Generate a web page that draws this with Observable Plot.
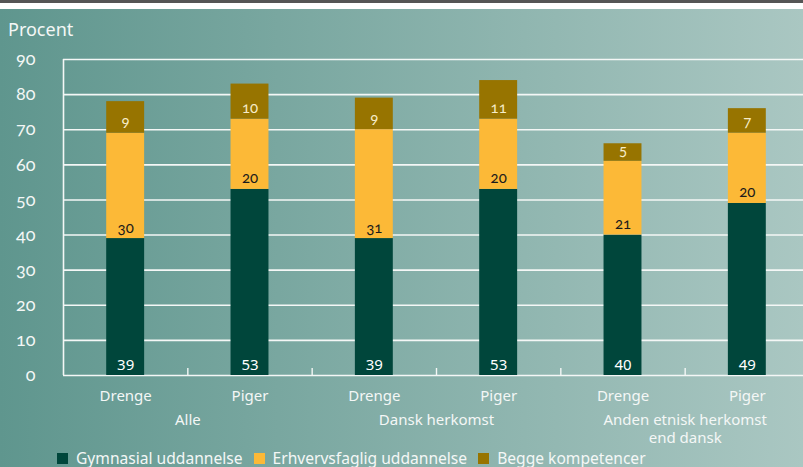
<!DOCTYPE html>
<html>
<head>
<meta charset="utf-8">
<script src="https://cdn.jsdelivr.net/npm/d3@7"></script>
<script src="https://cdn.jsdelivr.net/npm/@observablehq/plot@0.6"></script>
<style>
  html, body { margin: 0; padding: 0; }
  body { width: 803px; height: 467px; overflow: hidden; font-family: "Noto Sans", sans-serif; }
  #topbar { height: 3px; background: #555; }
  #white { height: 6px; background: #fff; }
  #main { position: relative; height: 458px; background: linear-gradient(to right, #5f968e, #aac7c2); overflow: hidden; }
  #title { position: absolute; left: 8px; top: 11px; font-size: 18px; line-height: 18px; color: #f4f7f6; }
  #chart { position: absolute; left: 0; top: 0; }
  #legend { position: absolute; left: 57px; top: 441px; font-size: 15.6px; line-height: 16px; color: #f4f7f6; display: flex; align-items: center; white-space: nowrap; }
  #legend .sw { display: inline-block; width: 11px; height: 11px; margin-right: 8px; }
  #legend .item { display: flex; align-items: center; margin-right: 11px; }
  .onum text { font-family: Lato, "Noto Sans", sans-serif; font-variant-numeric: oldstyle-nums; font-feature-settings: "onum" 1; }
</style>
</head>
<body>
<div id="topbar"></div>
<div id="white"></div>
<div id="main">
  <div id="title">Procent</div>
  <div id="chart"></div>
  <div id="legend"></div>
</div>
<script>
// ---- data ----
const groups = ["Alle", "Alle", "Dansk herkomst", "Dansk herkomst", "Anden etnisk herkomst\nend dansk", "Anden etnisk herkomst\nend dansk"];
const genders = ["Drenge", "Piger", "Drenge", "Piger", "Drenge", "Piger"];
const gymnasial = [39, 53, 39, 53, 40, 49];
const erhvervsfaglig = [30, 20, 31, 20, 21, 20];
const begge = [9, 10, 9, 11, 5, 7];
const seriesNames = ["Gymnasial uddannelse", "Erhvervsfaglig uddannelse", "Begge kompetencer"];
const seriesColors = ["#00463b", "#fcb937", "#977400"];
const labelColors = ["#ffffff", "#1b1b1b", "#f6ecc8"];
const yTicks = [0, 10, 20, 30, 40, 50, 60, 70, 80, 90];

// ---- table ----
const seriesValues = [gymnasial, erhvervsfaglig, begge];
const table = [];
genders.forEach((g, i) => {
  seriesNames.forEach((s, k) => {
    table.push({i, gender: g, group: groups[i], series: s, k, value: seriesValues[k][i]});
  });
});
const groupNames = Array.from(new Set(groups));
const groupTable = groupNames.map(name => {
  const idx = groups.map((g, i) => g === name ? i : -1).filter(i => i >= 0);
  return {name, center: d3.mean(idx) + 0.5};
});

const W = 803, H = 440;
const white = "#f4f7f6";

const labelMarks = seriesNames.map((s, k) =>
  Plot.text(table, Plot.stackY1({
    x: d => d.i + 0.5,
    y: "value",
    order: null,
    text: d => d.k === k ? String(d.value) : null,
    fill: labelColors[k],
    fontSize: 15,
    lineAnchor: "bottom",
    dy: -6,
    className: k === 0 ? "lnum" : "onum"
  }))
);

const chart = Plot.plot({
  width: W,
  height: H,
  marginLeft: 63,
  marginRight: 0,
  marginTop: 50,
  marginBottom: 74,
  style: {background: "transparent", fontFamily: "Noto Sans, sans-serif", overflow: "visible"},
  x: {domain: [0, 6], range: [63, 809], axis: null},
  y: {domain: [0, 90], axis: null},
  color: {domain: seriesNames, range: seriesColors},
  marks: [
    Plot.ruleY(yTicks, {stroke: white, strokeWidth: 1.6}),
    Plot.ruleX([0], {stroke: white, strokeWidth: 1.6}),
    Plot.ruleX([1, 2, 3, 4, 5], {y1: 0, y2: 2, stroke: white, strokeWidth: 1.4}),
    Plot.rectY(table, Plot.stackY({
      x: "i",
      interval: 1,
      y: "value",
      fill: "series",
      order: null,
      insetLeft: 43.2,
      insetRight: 43.2
    })),
    ...labelMarks,
    Plot.axisY({ticks: yTicks, tickSize: 0, tickPadding: 28, fontSize: 18, color: white, label: null, className: "onum"}),
    Plot.text(genders, {x: (d, i) => i + 0.5, frameAnchor: "bottom", text: d => d, dy: 25, fontSize: 15, fill: white, lineAnchor: "bottom"}),
    Plot.text(groupTable, {x: "center", text: "name", frameAnchor: "bottom", dy: 37, fontSize: 15, fill: white, lineAnchor: "top", lineHeight: 1.2})
  ]
});
document.getElementById("chart").appendChild(chart);

// ---- legend ----
const legend = document.getElementById("legend");
seriesNames.forEach((s, k) => {
  const item = document.createElement("span");
  item.className = "item";
  const sw = document.createElement("span");
  sw.className = "sw";
  sw.style.background = seriesColors[k];
  item.appendChild(sw);
  item.appendChild(document.createTextNode(s));
  legend.appendChild(item);
});
</script>
</body>
</html>
